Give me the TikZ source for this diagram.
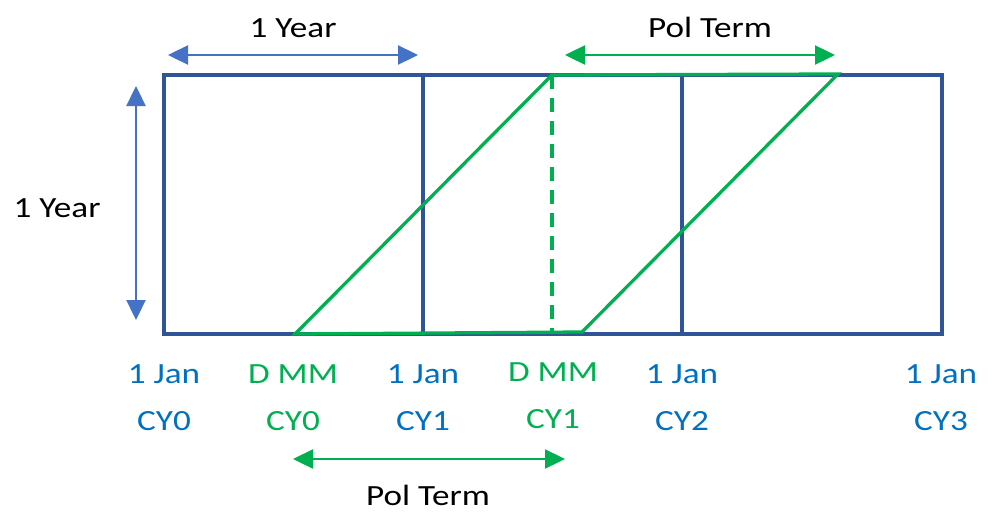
\documentclass[tikz,border=0pt]{standalone}
\usepackage{fontspec}
\setmainfont{Carlito}[FakeStretch=1.2]
\usetikzlibrary{arrows.meta}
\definecolor{boxblue}{HTML}{2F5597}
\definecolor{janblue}{HTML}{0070C0}
\definecolor{spanblue}{HTML}{4472C4}
\definecolor{polgreen}{HTML}{00B050}
\tikzset{
  lbl/.style={font=\fontsize{25}{40}\selectfont, anchor=base, align=center, inner sep=0pt},
  span/.style={{Triangle[length=0.6cm,width=0.57cm]}-{Triangle[length=0.6cm,width=0.57cm]}, line width=2pt},
}
\begin{document}
\begin{tikzpicture}[x=0.03cm,y=-0.03cm]
  \useasboundingbox (0,0) rectangle (997,522);
  % year boxes
  \coordinate (nw) at (164,75);
  \coordinate (se) at (942,334);
  \draw[boxblue,line width=2.6pt] (nw) rectangle (se);
  \foreach \x in {423,682} {
    \draw[boxblue,line width=2.6pt] (\x,75) -- (\x,334);
  }
  % policy period
  \coordinate (s0) at (295,334);
  \coordinate (s1) at (552,75);
  \coordinate (e1) at (838,74);
  \coordinate (e0) at (582,332);
  \coordinate (m0) at (552,333);
  \draw[polgreen,line width=2.8pt] (s0) -- (s1) -- (e1) -- (e0) -- cycle;
  \draw[polgreen,line width=2.6pt,dash pattern=on 0.42cm off 0.27cm] (s1) -- (m0);
  % spans
  \coordinate (ya) at (168,55);
  \coordinate (yb) at (418,55);
  \coordinate (pa) at (565,55);
  \coordinate (pb) at (835,55);
  \coordinate (va) at (136,86);
  \coordinate (vb) at (136,320);
  \coordinate (qa) at (293,459);
  \coordinate (qb) at (565,459);
  \draw[span,spanblue] (ya) -- (yb);
  \draw[span,polgreen] (pa) -- (pb);
  \draw[span,spanblue] (va) -- (vb);
  \draw[span,polgreen] (qa) -- (qb);
  \node[lbl] (yeartop) at (293,37) {1 Year};
  \node[lbl] (poltop) at (710,37) {Pol Term};
  \node[lbl] (yearside) at (57,217) {1 Year};
  \node[lbl] (polbot) at (428,505) {Pol Term};
  % dates
  \node[lbl,janblue] (j0) at (164,430) {1 Jan\\CY0};
  \node[lbl,polgreen] (d0) at (293,430) {D MM\\CY0};
  \node[lbl,janblue] (j1) at (423,430) {1 Jan\\CY1};
  \node[lbl,polgreen] (d1) at (553,428) {D MM\\CY1};
  \node[lbl,janblue] (j2) at (682,430) {1 Jan\\CY2};
  \node[lbl,janblue] (j3) at (941,430) {1 Jan\\CY3};
\end{tikzpicture}
\end{document}
